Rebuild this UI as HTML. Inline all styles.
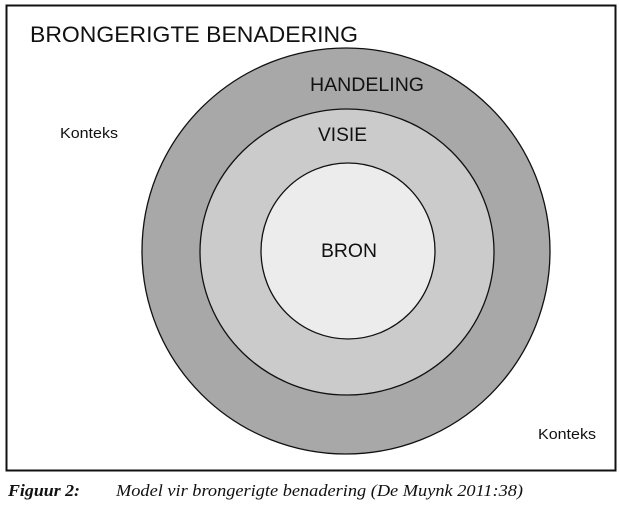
<!DOCTYPE html>
<html><head><meta charset="utf-8"><style>
html,body{margin:0;padding:0;background:#fff;}
svg{display:block;}
.s{font-family:"Liberation Sans",Arial,sans-serif;fill:#111;}
.r{font-family:"Liberation Serif","Times New Roman",serif;fill:#111;font-style:italic;}
</style></head><body>
<svg width="620" height="505" viewBox="0 0 620 505" xmlns="http://www.w3.org/2000/svg">
<rect x="6.5" y="5.5" width="609" height="465" fill="#fff" stroke="#111" stroke-width="2"/>
<text class="s" x="30" y="42" style="font-size:22px" textLength="328" lengthAdjust="spacingAndGlyphs">BRONGERIGTE BENADERING</text>
<ellipse cx="346" cy="251" rx="204" ry="203" fill="#a8a8a8" stroke="#111" stroke-width="1.3"/>
<ellipse cx="347" cy="252" rx="147" ry="143" fill="#cbcbcb" stroke="#111" stroke-width="1.3"/>
<ellipse cx="348" cy="251" rx="87" ry="88" fill="#ececec" stroke="#111" stroke-width="1.3"/>
<text class="s" x="310" y="91" style="font-size:19px" textLength="114" lengthAdjust="spacingAndGlyphs">HANDELING</text>
<text class="s" x="318" y="141" style="font-size:19px" textLength="49" lengthAdjust="spacingAndGlyphs">VISIE</text>
<text class="s" x="321" y="257" style="font-size:19px" textLength="56" lengthAdjust="spacingAndGlyphs">BRON</text>
<text class="s" x="60" y="138" style="font-size:15px" textLength="58" lengthAdjust="spacingAndGlyphs">Konteks</text>
<text class="s" x="538" y="439" style="font-size:15px" textLength="58" lengthAdjust="spacingAndGlyphs">Konteks</text>
<text class="r" x="8" y="496" style="font-size:17px;font-weight:bold" textLength="72" lengthAdjust="spacingAndGlyphs">Figuur 2:</text>
<text class="r" x="116" y="496" style="font-size:17px" textLength="407" lengthAdjust="spacingAndGlyphs">Model vir brongerigte benadering (De Muynk 2011:38)</text>
</svg>
</body></html>
